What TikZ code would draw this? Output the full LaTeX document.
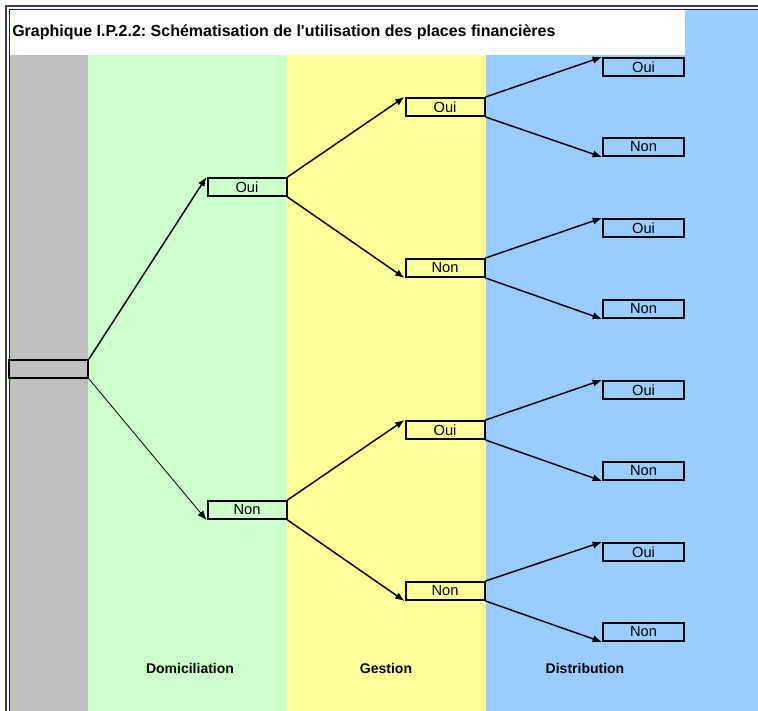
\documentclass[tikz,border=0pt]{standalone}
\usepackage{fontspec}
\setmainfont{Liberation Sans}
\usetikzlibrary{arrows.meta}
\frenchspacing

\definecolor{rootgray}{HTML}{C0C0C0}
\definecolor{domgreen}{HTML}{CCFFCC}
\definecolor{gesyellow}{HTML}{FFFF99}
\definecolor{disblue}{HTML}{99CCFF}
\definecolor{framegray}{HTML}{404040}

\tikzset{
  choice/.style={draw,line width=1.5pt,minimum width=59.25pt,minimum height=13.5pt,
    inner sep=0pt,font=\fontsize{11}{12}\selectfont},
  leaf/.style={choice,minimum width=60.75pt},
  branch/.style={->,line width=1.1pt},
  caption/.style={font=\bfseries\fontsize{10.5}{12}\selectfont},
  >={Latex[length=7pt,width=5.5pt]},
}

\begin{document}
\begin{tikzpicture}[x=0.75pt,y=-0.75pt]
\useasboundingbox (0,0) rectangle (758,711);
\fill [white] (0,0) rectangle (758,711);

% columns
\fill [rootgray]  (9,55)   rectangle (88,711);
\fill [domgreen]  (88,55)  rectangle (287,711);
\fill [gesyellow] (287,55) rectangle (486,711);
\fill [disblue]   (486,55) rectangle (758,711);
\fill [disblue]   (685,9)  rectangle (758,55);

% frame
\draw [line width=1.5pt,framegray] (6,711) -- (6,6) -- (758,6);
\draw [line width=0.75pt,blue]     (9,711) -- (9,9) -- (758,9);

\node [caption,font=\bfseries\fontsize{12}{14}\selectfont,anchor=west,inner sep=0pt] (title) at (12,32)
  {Graphique I.P.2.2: Schématisation de l\textquotesingle utilisation des places financières};

\node [choice]      (root) at (48.5,369) {};

\node [choice] (dom oui) at (247,187) {Oui};
\node [choice] (dom non) at (247,510) {Non};

\node [choice] (ges oui a) at (445,107) {Oui};
\node [choice] (ges non a) at (445,268) {Non};
\node [choice] (ges oui b) at (445,430) {Oui};
\node [choice] (ges non b) at (445,591) {Non};

\node [leaf] (dis 1) at (643.5,67)  {Oui};
\node [leaf] (dis 2) at (643.5,147) {Non};
\node [leaf] (dis 3) at (643.5,228) {Oui};
\node [leaf] (dis 4) at (643.5,309) {Non};
\node [leaf] (dis 5) at (643.5,390) {Oui};
\node [leaf] (dis 6) at (643.5,471) {Non};
\node [leaf] (dis 7) at (643.5,552) {Oui};
\node [leaf] (dis 8) at (643.5,632) {Non};

\draw [branch] (root.north east) -- (dom oui.north west);
\draw [branch,line width=0.6pt] (root.south east) -- (dom non.south west);

\draw [branch] (dom oui.north east) -- (ges oui a.north west);
\draw [branch] (dom oui.south east) -- (ges non a.south west);
\draw [branch] (dom non.north east) -- (ges oui b.north west);
\draw [branch] (dom non.south east) -- (ges non b.south west);

\draw [branch] (ges oui a.north east) -- (dis 1.north west);
\draw [branch] (ges oui a.south east) -- (dis 2.south west);
\draw [branch] (ges non a.north east) -- (dis 3.north west);
\draw [branch] (ges non a.south east) -- (dis 4.south west);
\draw [branch] (ges oui b.north east) -- (dis 5.north west);
\draw [branch] (ges oui b.south east) -- (dis 6.south west);
\draw [branch] (ges non b.north east) -- (dis 7.north west);
\draw [branch] (ges non b.south east) -- (dis 8.south west);

\node [caption] (dom label) at (190,668) {Domiciliation};
\node [caption] (ges label) at (386,668) {Gestion};
\node [caption] (dis label) at (585,668) {Distribution};
\end{tikzpicture}
\end{document}
